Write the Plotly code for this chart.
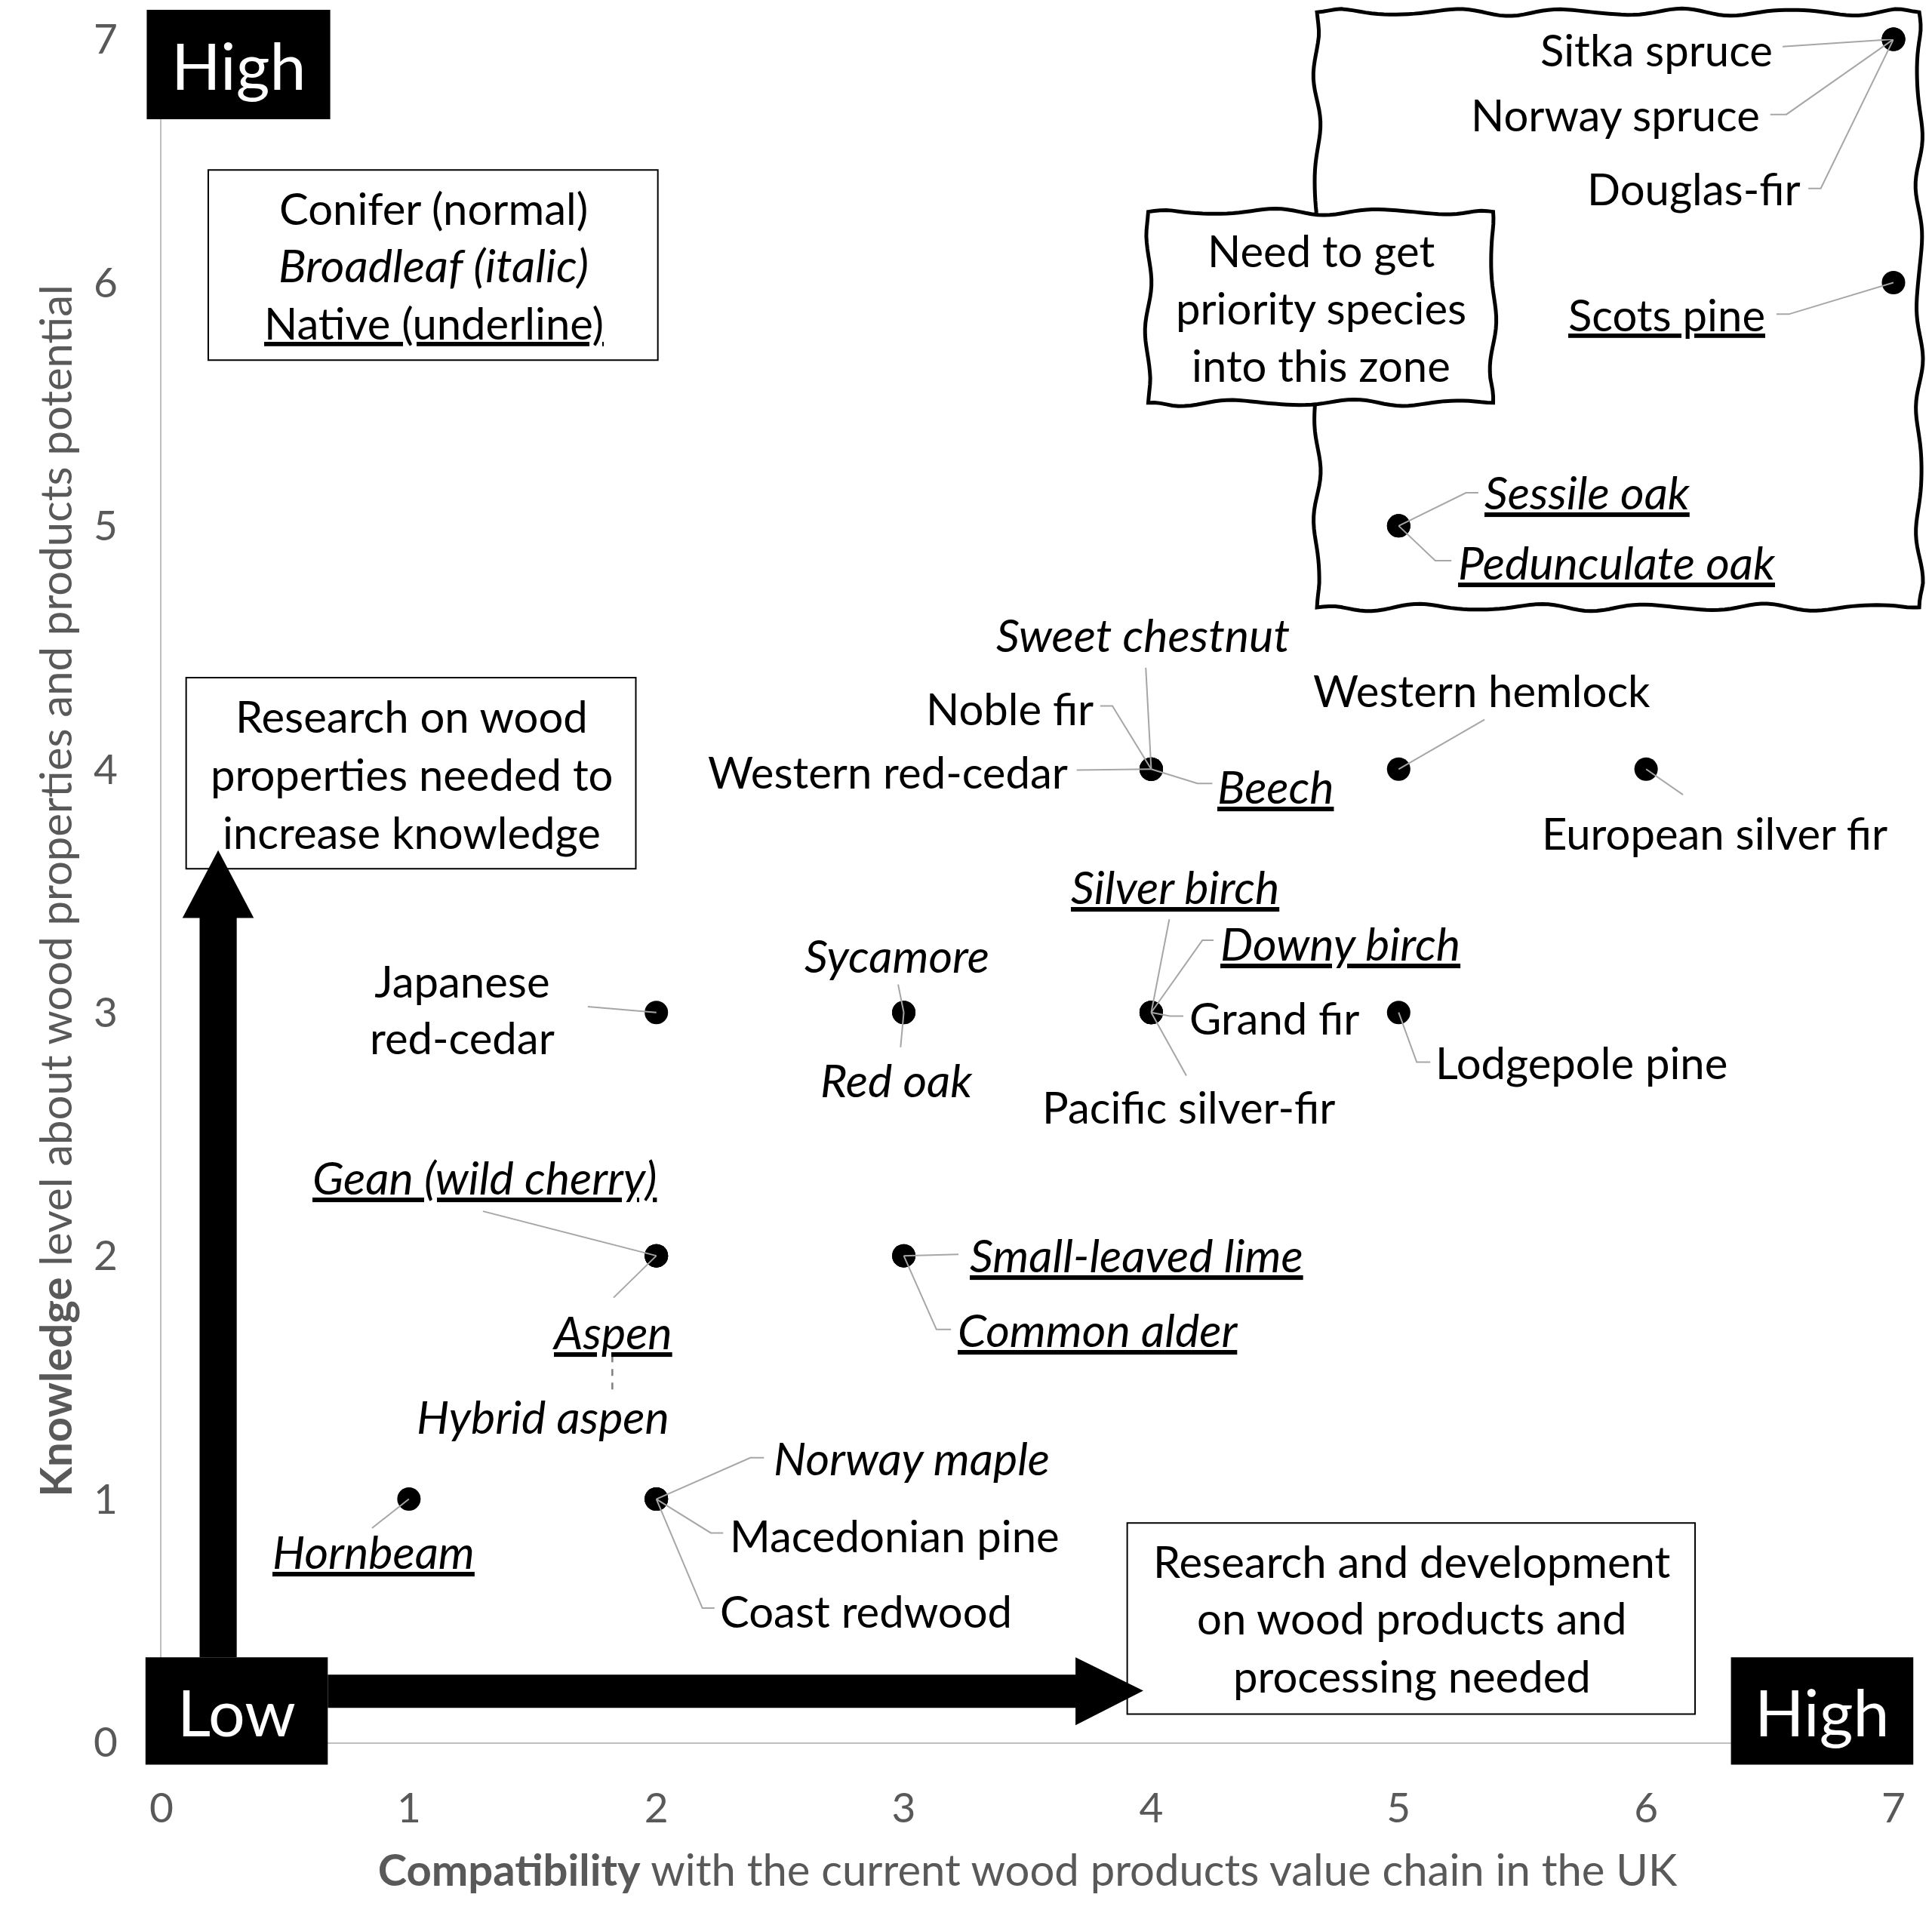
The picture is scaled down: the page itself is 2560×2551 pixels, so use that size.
import numpy as np
import plotly.graph_objects as go

# ---------------- data ----------------
species = ["Sitka spruce", "Norway spruce", "Douglas-fir", "Scots pine", "Sessile oak",
           "Pedunculate oak", "Sweet chestnut", "Noble fir", "Western red-cedar", "Beech",
           "Western hemlock", "European silver fir", "Silver birch", "Downy birch", "Grand fir",
           "Pacific silver-fir", "Lodgepole pine", "Sycamore", "Red oak", "Japanese red-cedar",
           "Gean (wild cherry)", "Aspen", "Hybrid aspen", "Small-leaved lime", "Common alder",
           "Hornbeam", "Norway maple", "Macedonian pine", "Coast redwood"]
compatibility = [7, 7, 7, 7, 5, 5, 4, 4, 4, 4, 5, 6, 4, 4, 4, 4, 5, 3, 3, 2, 2, 2, 2, 3, 3, 1, 2, 2, 2]
knowledge = [7, 7, 7, 6, 5, 5, 4, 4, 4, 4, 4, 4, 3, 3, 3, 3, 3, 3, 3, 3, 2, 2, 2, 2, 2, 1, 1, 1, 1]
tree_type = ["conifer", "conifer", "conifer", "conifer", "broadleaf", "broadleaf", "broadleaf",
             "conifer", "conifer", "broadleaf", "conifer", "conifer", "broadleaf", "broadleaf",
             "conifer", "conifer", "conifer", "broadleaf", "broadleaf", "conifer", "broadleaf",
             "broadleaf", "broadleaf", "broadleaf", "broadleaf", "broadleaf", "broadleaf",
             "conifer", "conifer"]
is_native = [False, False, False, True, True, True, False, False, False, True, False, False,
             True, True, False, False, False, False, False, False, True, True, False, True, True,
             True, False, False, False]
x_ticks = [0, 1, 2, 3, 4, 5, 6, 7]
y_ticks = [0, 1, 2, 3, 4, 5, 6, 7]
x_title = "<b>Compatibility</b> with the current wood products value chain in the UK"
y_title = "<b>Knowledge</b> level about wood properties and products potential"
legend_lines = [("Conifer (normal)", "conifer", False),
                ("Broadleaf (italic)", "broadleaf", False),
                ("Native (underline)", "conifer", True)]
research_lines = ["Research on wood", "properties needed to", "increase knowledge"]
rnd_lines = ["Research and development", "on wood products and", "processing needed"]
zone_lines = ["Need to get", "priority species", "into this zone"]

# ---------------- layout (label placement, in axis units) ----------------
FONT = "Lato"
SIZE_UP = 58      # upright text
SIZE_IT = 61      # italic text
LABEL_POS = {
    "Sitka spruce": (6.517, 6.959, "right"),
    "Norway spruce": (6.467, 6.691, "right"),
    "Douglas-fir": (6.632, 6.387, "right"),
    "Scots pine": (6.487, 5.870, "right"),
    "Sessile oak": (5.342, 5.140, "left"),
    "Pedunculate oak": (5.233, 4.852, "left"),
    "Sweet chestnut": (3.968, 4.554, "center"),
    "Noble fir": (3.774, 4.250, "right"),
    "Western red-cedar": (3.669, 3.991, "right"),
    "Beech": (4.262, 3.930, "left"),
    "Western hemlock": (5.337, 4.326, "center"),
    "European silver fir": (6.278, 3.738, "center"),
    "Silver birch": (4.097, 3.520, "center"),
    "Downy birch": (4.272, 3.285, "left"),
    "Grand fir": (4.147, 2.978, "left"),
    "Pacific silver-fir": (4.152, 2.614, "center"),
    "Lodgepole pine": (5.143, 2.796, "left"),
    "Sycamore": (2.972, 3.237, "center"),
    "Red oak": (2.972, 2.725, "center"),
    "Japanese red-cedar": (1.215, 3.014, "center"),
    "Gean (wild cherry)": (1.304, 2.325, "center"),
    "Aspen": (1.822, 1.690, "center"),
    "Hybrid aspen": (1.543, 1.342, "center"),
    "Small-leaved lime": (3.261, 2.006, "left"),
    "Common alder": (3.211, 1.697, "left"),
    "Hornbeam": (0.856, 0.785, "center"),
    "Norway maple": (2.469, 1.170, "left"),
    "Macedonian pine": (2.290, 0.851, "left"),
    "Coast redwood": (2.250, 0.542, "left"),
}
LABEL_TEXT = {"Japanese red-cedar": "Japanese<br>red-cedar"}
# leader polyline from the label side; the last segment runs to the species' point
LEADERS = {
    "Sitka spruce": [(6.552, 6.970)],
    "Norway spruce": [(6.502, 6.691), (6.567, 6.691)],
    "Douglas-fir": [(6.656, 6.387), (6.706, 6.387)],
    "Scots pine": [(6.527, 5.870), (6.577, 5.870)],
    "Sessile oak": [(5.322, 5.136), (5.272, 5.136)],
    "Pedunculate oak": [(5.213, 4.857), (5.148, 4.857)],
    "Sweet chestnut": [(3.978, 4.417)],
    "Noble fir": [(3.794, 4.260), (3.843, 4.260)],
    "Western red-cedar": [(3.699, 3.996)],
    "Beech": [(4.247, 3.941), (4.187, 3.941)],
    "Western hemlock": [(5.347, 4.204)],
    "European silver fir": [(6.149, 3.895)],
    "Silver birch": [(4.073, 3.383)],
    "Downy birch": [(4.252, 3.297), (4.207, 3.297)],
    "Grand fir": [(4.130, 2.985), (4.075, 2.985)],
    "Pacific silver-fir": [(4.142, 2.740)],
    "Lodgepole pine": [(5.128, 2.796), (5.073, 2.796)],
    "Sycamore": [(2.977, 3.115)],
    "Red oak": [(2.987, 2.857)],
    "Japanese red-cedar": [(1.723, 3.024)],
    "Gean (wild cherry)": [(1.299, 2.183)],
    "Aspen": [(1.827, 1.828)],
    "Small-leaved lime": [(3.221, 2.006)],
    "Common alder": [(3.191, 1.697), (3.132, 1.697)],
    "Hornbeam": [(0.851, 0.881)],
    "Norway maple": [(2.435, 1.170), (2.380, 1.170)],
    "Macedonian pine": [(2.270, 0.861), (2.220, 0.861)],
    "Coast redwood": [(2.235, 0.552), (2.186, 0.552)],
}
DASHED_LINK = [(1.822, 1.590), (1.822, 1.438)]

XMAX, YMAX = 7.0, 7.0
PXX, PXY = 328.0, 322.3  # pixels per axis unit


def px(v):
    return v / XMAX


def py(v):
    return v / YMAX


def styled(txt, kind, nat):
    if kind == "broadleaf":
        txt = "<i>" + txt + "</i>"
    if nat:
        txt = ('<span style="text-decoration:underline;text-decoration-thickness:4px;'
               'text-underline-offset:7px;text-decoration-skip-ink:none">' + txt + '</span>')
    return txt


fig = go.Figure()

# points
fig.add_trace(go.Scatter(
    x=compatibility, y=knowledge, mode="markers",
    marker=dict(size=31, color="black"), cliponaxis=False,
    hovertext=species, hoverinfo="text", showlegend=False))

# leader lines
lx, ly = [], []
for name, cx, cy in zip(species, compatibility, knowledge):
    if name not in LEADERS:
        continue
    for (a, b) in LEADERS[name]:
        lx.append(a)
        ly.append(b)
    lx += [cx, None]
    ly += [cy, None]
fig.add_trace(go.Scatter(x=lx, y=ly, mode="lines", line=dict(color="#A6A6A6", width=2),
                         hoverinfo="skip", showlegend=False, cliponaxis=False))
fig.add_trace(go.Scatter(x=[p[0] for p in DASHED_LINK], y=[p[1] for p in DASHED_LINK],
                         mode="lines", line=dict(color="#7F7F7F", width=2.5, dash="dash"),
                         hoverinfo="skip", showlegend=False))

annotations = []
for name, t, nat in zip(species, tree_type, is_native):
    x, y, anc = LABEL_POS[name]
    txt = styled(LABEL_TEXT.get(name, name), t, nat)
    annotations.append(dict(x=x, y=y, xref="x", yref="y", text=txt, showarrow=False,
                            xanchor=anc, yanchor="middle", align="center",
                            font=dict(family=FONT, size=SIZE_IT if t == "broadleaf" else SIZE_UP,
                                      color="black")))


def box_lines(lines, xc, ys):
    for item, yy in zip(lines, ys):
        if isinstance(item, tuple):
            t, kind, nat = item
        else:
            t, kind, nat = item, "conifer", False
        annotations.append(dict(x=xc, y=yy, xref="x", yref="y", text=styled(t, kind, nat),
                                showarrow=False, xanchor="center", yanchor="middle",
                                font=dict(family=FONT, size=SIZE_IT if kind == "broadleaf" else SIZE_UP,
                                          color="black")))


box_lines(legend_lines, 1.100, [6.306, 6.073, 5.835])
box_lines(research_lines, 1.011, [4.219, 3.981, 3.743])
box_lines(rnd_lines, 5.053, [0.745, 0.512, 0.2735])
box_lines(zone_lines, 4.685, [6.134, 5.896, 5.663])

for t, xc, yc in [("High", 0.311, 6.896), ("Low", 0.304, 0.129), ("High", 6.711, 0.129)]:
    annotations.append(dict(x=xc, y=yc, xref="x", yref="y", text=t, showarrow=False,
                            xanchor="center", yanchor="middle",
                            font=dict(family=FONT, size=86, color="white")))


def wavy_path(x0, x1, y0, y1, amp=4.5, phase=0.0):
    pts = []
    edges = [((x0, y1), (x1, y1)), ((x1, y1), (x1, y0)), ((x1, y0), (x0, y0)), ((x0, y0), (x0, y1))]
    k = 0
    for (ax, ay), (bx, by) in edges:
        lpx = np.hypot((bx - ax) * PXX, (by - ay) * PXY)
        n = max(int(lpx / 8), 4)
        t = np.linspace(0, 1, n, endpoint=False)
        dxp, dyp = (bx - ax) * PXX / lpx, (by - ay) * PXY / lpx
        nx, ny = -dyp, dxp
        s = t * lpx
        off = amp * (0.8 * np.sin(2 * np.pi * s / 150 + phase + k) + 0.2 * np.sin(2 * np.pi * s / 95 + 2 * phase + 1.7 * k))
        off *= np.minimum(1, np.minimum(s, lpx - s) / 30)
        X = ax + (bx - ax) * t + nx * off / PXX
        Y = ay + (by - ay) * t + ny * off / PXY
        pts += list(zip(X, Y))
        k += 1
    d = "M " + " L ".join(f"{px(a):.5f},{py(b):.5f}" for a, b in pts) + " Z"
    return d


shapes = []
# big wavy zone
shapes.append(dict(type="path", xref="paper", yref="paper", path=wavy_path(4.670, 7.104, 4.665, 7.111, 5, 0.3),
                   line=dict(color="black", width=5), fillcolor="rgba(0,0,0,0)", layer="above"))
# small wavy box
shapes.append(dict(type="path", xref="paper", yref="paper", path=wavy_path(3.988, 5.382, 5.506, 6.291, 4.5, 1.1),
                   line=dict(color="black", width=5), fillcolor="white", layer="above"))


def rect(x0, x1, y0, y1, fill, lw, lc="black"):
    shapes.append(dict(type="rect", xref="paper", yref="paper", x0=px(x0), x1=px(x1), y0=py(y0), y1=py(y1),
                       fillcolor=fill, line=dict(color=lc, width=lw), layer="above"))


rect(0.189, 2.006, 5.681, 6.463, "white", 2)
rect(0.0996, 1.917, 3.591, 4.376, "white", 2)
rect(3.903, 6.198, 0.1165, 0.9016, "white", 2)
rect(-0.0597, 0.682, 6.671, 7.121, "black", 0)
rect(-0.0647, 0.672, -0.0912, 0.3495, "black", 0)
rect(6.343, 7.080, -0.0912, 0.3495, "black", 0)


def poly(pts):
    return "M " + " L ".join(f"{px(a):.5f},{py(b):.5f}" for a, b in pts) + " Z"


up_arrow = [(0.154, 0.3495), (0.154, 3.388), (0.0846, 3.388), (0.229, 3.667), (0.373, 3.388),
            (0.304, 3.388), (0.304, 0.3495)]
right_arrow = [(0.672, 0.1418), (3.694, 0.1418), (3.694, 0.0709), (3.968, 0.2127), (3.694, 0.3495),
               (3.694, 0.2786), (0.672, 0.2786)]
for a in (up_arrow, right_arrow):
    shapes.append(dict(type="path", xref="paper", yref="paper", path=poly(a), fillcolor="black",
                       line=dict(color="black", width=0), layer="above"))

tick_font = dict(family=FONT, size=55, color="#595959")
title_font = dict(family=FONT, size=58, color="#595959")
fig.update_layout(
    width=2560, height=2551,
    margin=dict(l=214, r=51, t=52, b=242),
    paper_bgcolor="white", plot_bgcolor="white",
    shapes=shapes, annotations=annotations,
    xaxis=dict(range=[0, XMAX], tickvals=x_ticks, ticks="", showgrid=False, zeroline=False,
               showline=True, linecolor="#BFBFBF", linewidth=2, tickfont=tick_font,
               ticklabelstandoff=38,
               title=dict(text=x_title, font=title_font, standoff=32)),
    yaxis=dict(range=[0, YMAX], tickvals=y_ticks, ticks="", showgrid=False, zeroline=False,
               showline=True, linecolor="#BFBFBF", linewidth=2, tickfont=tick_font,
               ticklabelstandoff=45,
               title=dict(text=y_title, font=title_font, standoff=10)),
    showlegend=False,
)

fig.write_html("out.html", config={"displayModeBar": False},
               post_script="document.body.style.margin='0';")
